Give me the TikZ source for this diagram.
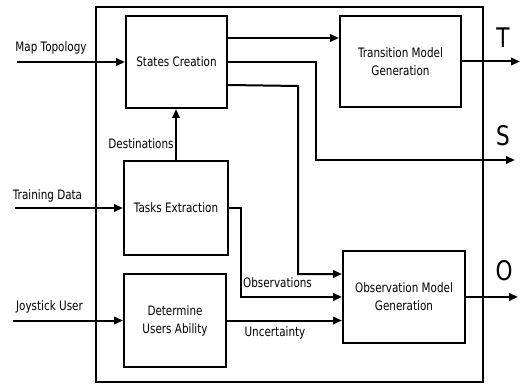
\documentclass[tikz,border=0pt]{standalone}
\usepackage{fontspec}
\setmainfont{DejaVu Sans}[FakeStretch=0.8]
\usetikzlibrary{arrows.meta}
\begin{document}
\begin{tikzpicture}[x=1pt,y=-1pt,
  box/.style={draw,line width=2pt,inner sep=0pt,align=center,font=\fontsize{13}{18}\selectfont},
  lbl/.style={inner sep=0pt,font=\fontsize{13}{15}\selectfont},
  big/.style={inner sep=0pt,font=\fontsize{27}{30}\selectfont},
  arr/.style={line width=2pt,-{Triangle[length=9pt,width=7.5pt]}}]
\useasboundingbox (0,0) rectangle (522,385);
\node[draw,line width=2pt,minimum width=387pt,minimum height=375pt,inner sep=0pt] (frame) at (289.5,194.5) {};
\node[box,minimum width=101pt,minimum height=92pt] (states) at (176.5,62) {States Creation};
\node[box,minimum width=121pt,minimum height=91pt] (trans) at (400.5,61.5) {Transition Model\\Generation};
\node[box,minimum width=104pt,minimum height=94pt] (tasks) at (176,208) {Tasks Extraction};
\node[box,minimum width=102pt,minimum height=93pt] (det) at (175,320.5) {Determine\\Users Ability};
\node[box,minimum width=122pt,minimum height=92pt] (obs) at (404,297) {Observation Model\\Generation};
\coordinate (mapin) at (17,62);
\coordinate (trainin) at (15,208);
\coordinate (joyin) at (13,320.5);
\coordinate (tout) at (520,61.5);
\coordinate (sout) at (515,160);
\coordinate (oout) at (518,297);
\node[lbl] (lmap) at (51,48) {Map Topology};
\node[lbl] (ltrain) at (47.5,196) {Training Data};
\node[lbl] (ljoy) at (49.5,307) {Joystick User};
\node[lbl] (ldest) at (141,144) {Destinations};
\node[lbl] (lobsv) at (277.5,283) {Observations};
\node[lbl] (lunc) at (275,333) {Uncertainty};
\node[big] (lT) at (503,38) {T};
\node[big] (lS) at (503,136) {S};
\node[big] (lO) at (504,271) {O};
\draw[arr] (mapin) -- (states.west);
\draw[arr] (trainin) -- (tasks.west);
\draw[arr] (joyin) -- (det.west);
\draw[arr] (tasks.north) -- (tasks.north |- states.south);
\draw[arr] ([yshift=-23pt]states.north east) -- ([yshift=-23pt]states.north east -| trans.west);
\draw[arr] (states.east) -- (316,62) -- (316,160) -- (sout);
\draw[arr] ([yshift=-70pt]states.north east) -- (298,86) -- (298,274) -- (298,274 -| obs.west);
\draw[arr] (tasks.east) -- (241,208) -- (241,297) -- (obs.west);
\draw[arr] (det.east) -- (det.east -| obs.west);
\draw[arr] (trans.east) -- (tout);
\draw[arr] (obs.east) -- (oout);
\end{tikzpicture}
\end{document}
